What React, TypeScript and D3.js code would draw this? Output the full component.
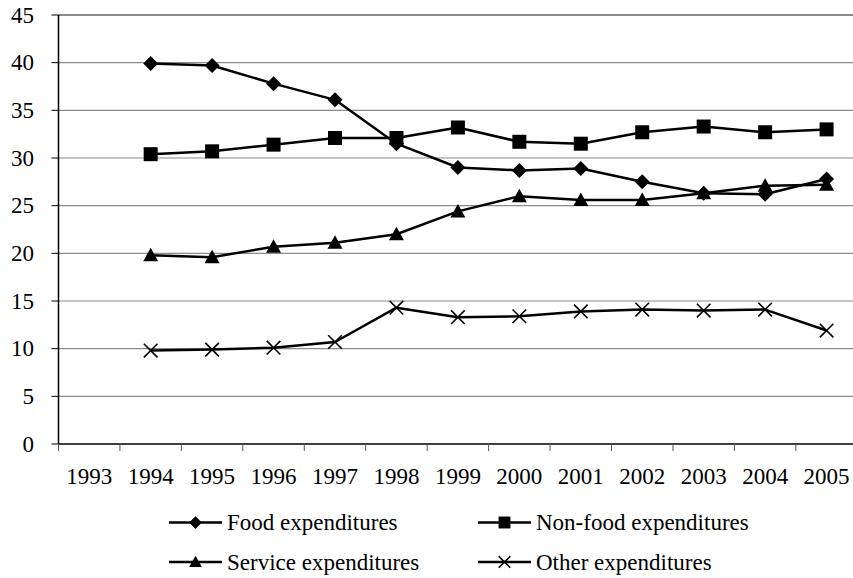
import React from "react";
import * as d3 from "d3";

const years = ["1993", "1994", "1995", "1996", "1997", "1998", "1999", "2000", "2001", "2002", "2003", "2004", "2005"];
const dataYears = years.slice(1);

const foodValues = [39.9, 39.7, 37.8, 36.1, 31.5, 29.0, 28.7, 28.9, 27.5, 26.3, 26.2, 27.8];
const nonFoodValues = [30.4, 30.7, 31.4, 32.1, 32.1, 33.2, 31.7, 31.5, 32.7, 33.3, 32.7, 33.0];
const serviceValues = [19.8, 19.6, 20.7, 21.1, 22.0, 24.4, 26.0, 25.6, 25.6, 26.3, 27.1, 27.2];
const otherValues = [9.8, 9.9, 10.1, 10.7, 14.3, 13.3, 13.4, 13.9, 14.1, 14.0, 14.1, 11.9];

const yTicks = [0, 5, 10, 15, 20, 25, 30, 35, 40, 45];

type MarkerKind = "diamond" | "square" | "triangle" | "cross";

const seriesList: { name: string; values: number[]; marker: MarkerKind }[] = [
  { name: "Food expenditures", values: foodValues, marker: "diamond" },
  { name: "Non-food expenditures", values: nonFoodValues, marker: "square" },
  { name: "Service expenditures", values: serviceValues, marker: "triangle" },
  { name: "Other expenditures", values: otherValues, marker: "cross" },
];

const W = 853;
const H = 578;
const left = 58.5;
const right = 857.3;
const top = 15;
const bottom = 444;
const FONT = "'Liberation Serif', 'Times New Roman', Times, serif";
const FS = 23;

function Marker({ kind, x, y, k = 1 }: { kind: MarkerKind; x: number; y: number; k?: number }) {
  if (kind === "diamond") {
    const r = 7.5 * k;
    return <path d={`M${x},${y - r}L${x + r},${y}L${x},${y + r}L${x - r},${y}Z`} fill="#000" />;
  }
  if (kind === "square") {
    const s = 7 * k;
    return <rect x={x - s} y={y - s} width={2 * s} height={2 * s} fill="#000" />;
  }
  if (kind === "triangle") {
    const r = 7.5 * k;
    return <path d={`M${x},${y - r}L${x + r},${y + r * 0.8}L${x - r},${y + r * 0.8}Z`} fill="#000" />;
  }
  const c = 6.8 * k;
  return (
    <path d={`M${x - c},${y - c}L${x + c},${y + c}M${x - c},${y + c}L${x + c},${y - c}`} stroke="#000" strokeWidth={1.6} fill="none" />
  );
}

export default function App() {
  const x = d3.scaleBand<string>().domain(years).range([left, right]).paddingInner(0).paddingOuter(0);
  const cx = (yr: string) => (x(yr) as number) + x.bandwidth() / 2;
  const y = d3.scaleLinear().domain([0, 45]).range([bottom, top]);

  const line = d3
    .line<number>()
    .x((_, i) => cx(dataYears[i]))
    .y((v) => y(v));

  const legendItems = [
    { s: seriesList[0], lx: 169, ly: 522.5 },
    { s: seriesList[1], lx: 478, ly: 522.5 },
    { s: seriesList[2], lx: 169, ly: 562 },
    { s: seriesList[3], lx: 478, ly: 562 },
  ];

  return (
    <svg width={W} height={H} style={{ position: "absolute", left: 0, top: 0, background: "#fff", fontFamily: FONT }}>
      <rect x={0} y={0} width={W} height={H} fill="#fff" />
      {/* horizontal gridlines */}
      {yTicks.slice(1).map((t) => (
        <line key={t} x1={left} x2={right} y1={y(t)} y2={y(t)} stroke="#8a8a8a" strokeWidth={t === 45 ? 2 : 1.2} />
      ))}
      {/* y axis */}
      <line x1={left} x2={left} y1={top} y2={bottom} stroke="#000" strokeWidth={1.5} />
      {yTicks.map((t) => (
        <g key={t}>
          <line x1={left - 7} x2={left} y1={y(t)} y2={y(t)} stroke="#000" strokeWidth={1} />
          <text x={34} y={y(t)} dy="0.33em" textAnchor="end" fontSize={FS} style={{ fontFamily: FONT }} fill="#000">
            {t}
          </text>
        </g>
      ))}
      {/* x axis */}
      <line x1={left} x2={right} y1={bottom} y2={bottom} stroke="#000" strokeWidth={1.5} />
      {years.map((yr) => (
        <g key={yr}>
          <line x1={x(yr) as number} x2={x(yr) as number} y1={bottom} y2={bottom + 7} stroke="#555" strokeWidth={1} />
          <text x={cx(yr)} y={476} dy="0.33em" textAnchor="middle" fontSize={FS} style={{ fontFamily: FONT }} fill="#000">
            {yr}
          </text>
        </g>
      ))}
      {/* series */}
      {seriesList.map((s) => (
        <g key={s.name}>
          <path d={line(s.values) || ""} fill="none" stroke="#000" strokeWidth={2.5} strokeLinejoin="round" />
          {s.values.map((v, i) => (
            <Marker key={i} kind={s.marker} x={cx(dataYears[i])} y={y(v)} />
          ))}
        </g>
      ))}
      {/* legend */}
      {legendItems.map(({ s, lx, ly }) => (
        <g key={s.name}>
          <line x1={lx} x2={lx + 53} y1={ly} y2={ly} stroke="#000" strokeWidth={2.4} />
          <Marker kind={s.marker} x={lx + 26.5} y={ly} k={0.85} />
          <text x={lx + 58} y={ly} dy="0.33em" fontSize={FS} style={{ fontFamily: FONT }} fill="#000">
            {s.name}
          </text>
        </g>
      ))}
    </svg>
  );
}
